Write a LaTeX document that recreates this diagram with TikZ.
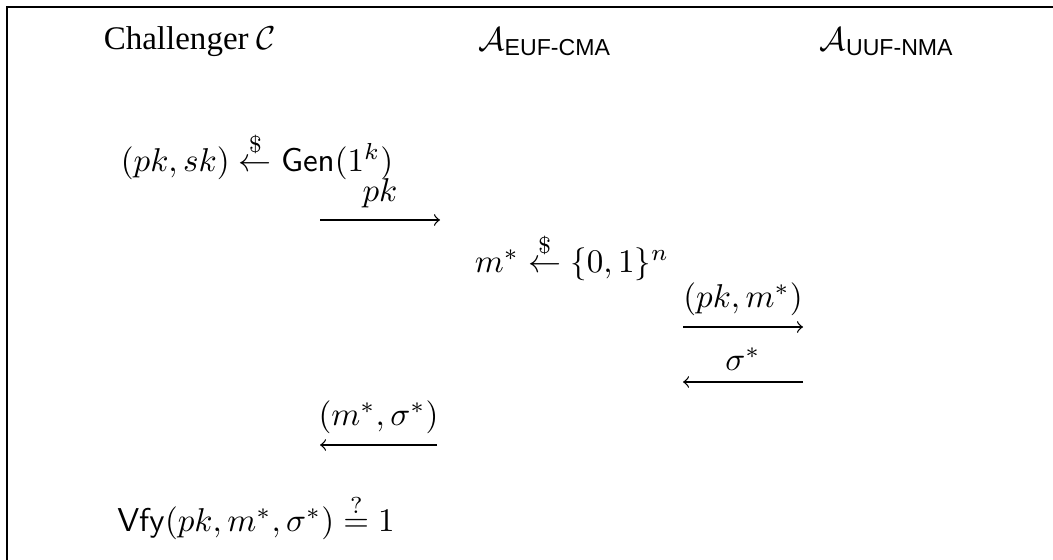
\documentclass[tikz,border=0pt]{standalone}
\usepackage{amsmath}
\usepackage[no-math]{fontspec}
\newfontfamily\hdrfont{Liberation Serif}
\newfontfamily\subfont{Liberation Sans}
\usetikzlibrary{positioning}

\newcommand{\sampleto}{\stackrel{\$}{\leftarrow}}

\begin{document}
\begin{tikzpicture}[x=0.303pt, y=-0.303pt,
  msg/.style={->, line width=0.4pt},
  party/.style={font=\hdrfont}]
\useasboundingbox (0,0) rectangle (1053,560);
\draw[line width=0.6pt] (7,560) -- (7,7) -- (1053,7);

% parties
\node[party] (chal) at (190,42) {Challenger $\mathcal{C}$};
\node (euf) at (545,42) {$\mathcal{A}_{\text{\subfont EUF-CMA}}$};
\node (uuf) at (887,42) {$\mathcal{A}_{\text{\subfont UUF-NMA}}$};

% protocol
\node (gen) at (257,156) {$(pk,sk)\sampleto\mathsf{Gen}(1^k)$};
\coordinate (pkA) at (320,220);
\coordinate (pkB) at (440,220);
\draw[msg] (pkA) -- (pkB) node[midway, above] (pkL) {$pk$};

\node (msel) at (572,257) {$m^*\sampleto\{0,1\}^n$};
\coordinate (qA) at (683,327);
\coordinate (qB) at (803,327);
\draw[msg] (qA) -- (qB) node[midway, above] (qL) {$(pk,m^*)$};
\coordinate (sA) at (803,382);
\coordinate (sB) at (683,382);
\draw[msg] (sA) -- (sB) node[midway, above] (sL) {$\sigma^*$};

\coordinate (fA) at (437,445);
\coordinate (fB) at (320,445);
\draw[msg] (fA) -- (fB) node[midway, above] (fL) {$(m^*,\sigma^*)$};

\node (vfy) at (256,517) {$\mathsf{Vfy}(pk,m^*,\sigma^*)\stackrel{?}{=}1$};
\end{tikzpicture}
\end{document}
